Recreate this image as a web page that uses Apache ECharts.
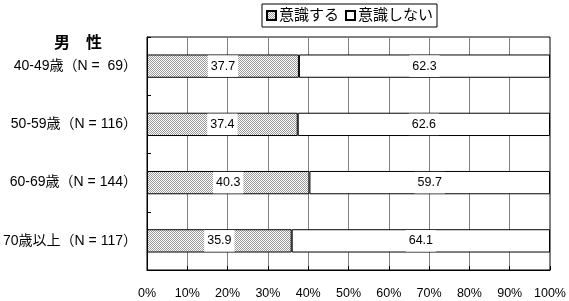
<!DOCTYPE html>
<html>
<head>
<meta charset="utf-8">
<script src="https://cdn.jsdelivr.net/npm/echarts@6/dist/echarts.min.js"></script>
<style>
html,body{margin:0;padding:0;background:#fff;}
#c{width:569px;height:301px;}
</style>
</head>
<body>
<div id="c"></div>
<script>
const categories = ['40-49歳（N =  69）', '50-59歳（N = 116）', '60-69歳（N = 144）', '70歳以上（N = 117）'];
const seriesNames = ['意識する', '意識しない'];
const aware = [37.7, 37.4, 40.3, 35.9];
const notAware = [62.3, 62.6, 59.7, 64.1];
const xTicks = [0, 10, 20, 30, 40, 50, 60, 70, 80, 90, 100];

const pc = document.createElement('canvas');
pc.width = 2; pc.height = 2;
const pctx = pc.getContext('2d');
pctx.fillStyle = '#ffffff'; pctx.fillRect(0, 0, 2, 2);
pctx.fillStyle = '#999999'; pctx.fillRect(0, 0, 1, 1); pctx.fillRect(1, 1, 1, 1);
const pattern = { image: pc, repeat: 'repeat' };

const font = '"Liberation Sans", "Noto Sans CJK JP", sans-serif';
const labelCfg = {
  show: true,
  position: 'inside',
  color: '#000',
  fontSize: 12.5,
  fontFamily: font,
  backgroundColor: '#fff',
  padding: [8, 3, 1, 3],
  formatter: p => p.value.toFixed(1)
};

const chart = echarts.init(document.getElementById('c'));
chart.setOption({
  animation: false,
  backgroundColor: '#fff',
  title: {
    text: '男　性',
    left: 49, top: 31,
    textStyle: { fontSize: 16, fontWeight: 'bold', color: '#000', fontFamily: font }
  },
  legend: {
    left: 262, top: 4,
    itemWidth: 9, itemHeight: 9, itemGap: 6,
    padding: [4, 4, 4, 4],
    borderColor: '#000', borderWidth: 1,
    icon: 'rect',
    textStyle: { fontSize: 15, color: '#000', fontFamily: font, padding: [0, 0, 0, -2] },
    data: seriesNames
  },
  grid: {
    left: 147, top: 37, width: 403, height: 233,
    show: true, borderColor: '#000', borderWidth: 1, containLabel: false
  },
  xAxis: {
    type: 'value', min: 0, max: 100, interval: 10,
    axisLine: { show: true, lineStyle: { color: '#000' } },
    axisTick: { show: true, inside: true, length: 4, lineStyle: { color: '#000' } },
    splitLine: { show: true, lineStyle: { color: '#808080', width: 1 } },
    axisLabel: {
      margin: 17, fontSize: 12.5, color: '#000', fontFamily: font,
      formatter: v => xTicks.includes(v) ? v + '%' : ''
    }
  },
  yAxis: {
    type: 'category', inverse: true, data: categories,
    axisLine: { show: true, lineStyle: { color: '#000' } },
    axisTick: { show: true, inside: true, length: 4, lineStyle: { color: '#000' } },
    axisLabel: { margin: 10, fontSize: 14, color: '#000', fontFamily: font }
  },
  series: [
    {
      name: seriesNames[0], type: 'bar', stack: 's', data: aware,
      barCategoryGap: '60%',
      itemStyle: { color: pattern, borderColor: '#000', borderWidth: 1 },
      label: labelCfg
    },
    {
      name: seriesNames[1], type: 'bar', stack: 's', data: notAware,
      barCategoryGap: '60%',
      itemStyle: { color: '#fff', borderColor: '#000', borderWidth: 1 },
      label: labelCfg
    }
  ]
});
</script>
</body>
</html>
